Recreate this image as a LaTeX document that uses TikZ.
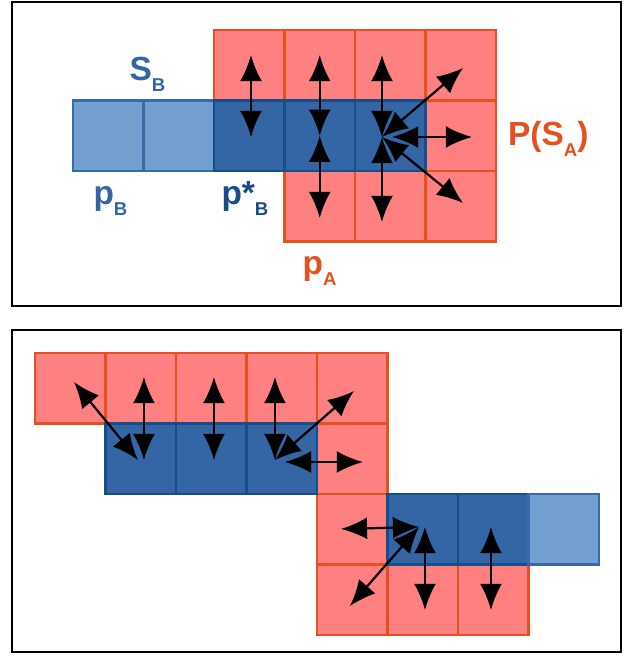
\documentclass[tikz,border=0pt]{standalone}
\usepackage{fontspec}
\setmainfont{Liberation Sans}
\usepackage{xcolor}
\usepackage{tikz}
\usetikzlibrary{arrows.meta,positioning,calc}
\definecolor{cellred}{RGB}{255,128,128}
\definecolor{edgered}{RGB}{228,80,30}
\definecolor{celldark}{RGB}{52,101,164}
\definecolor{edgedark}{RGB}{22,78,140}
\definecolor{celllight}{RGB}{114,159,207}
\definecolor{edgelight}{RGB}{58,104,168}
\newcommand{\lsub}[1]{\raisebox{-0.35em}{\fontsize{7.5}{9}\selectfont #1}}

\begin{document}
\begin{tikzpicture}[
    >={Latex[length=3.7mm,width=3.1mm]},
    cell/.style={draw, minimum size=1cm, inner sep=0pt, line width=0.9pt},
    redcell/.style={cell, fill=cellred, draw=edgered},
    darkcell/.style={cell, fill=celldark, draw=edgedark},
    lightcell/.style={cell, fill=celllight, draw=edgelight},
    panel/.style={draw=black, line width=1pt},
    dbl/.style={<->, line width=0.9pt},
    lbl/.style={font=\fontsize{13.5}{15}\selectfont\bfseries, inner sep=0pt, anchor=base west},
]
    \useasboundingbox (0,0) rectangle (8.851,-9.319);
    % Panels
    \node[panel, minimum width=8.639cm, minimum height=4.312cm, inner sep=0pt] (top) at (4.4895,-2.184) {};
    \node[panel, minimum width=8.639cm, minimum height=4.567cm, inner sep=0pt] (bot) at (4.4895,-6.9645) {};

    % Top panel
    \begin{scope}[shift={(1.035,-0.4255)}]
    \foreach \c/\r in {2/0,3/0,4/0,5/0,5/1,3/2,4/2,5/2}
        \node[redcell] (tr\c\r) at (\c+0.5,-\r-0.5) {};
    \foreach \c in {0,1}
        \node[lightcell] (tb\c) at (\c+0.5,-1.5) {};
    \foreach \c in {2,3,4}
        \node[darkcell] (tb\c) at (\c+0.5,-1.5) {};
    % moves
    \coordinate (tu1) at (2.525,-0.355);
    \coordinate (th1) at (2.525,-1.518);
    \coordinate (tu2) at (3.5,-0.355);
    \coordinate (th2) at (3.5,-1.5);
    \coordinate (td2) at (3.5,-2.667);
    \coordinate (th3) at (4.383,-1.518);
    \coordinate (tu3) at (4.383,-0.355);
    \coordinate (td3) at (4.383,-2.723);
    \coordinate (tur3) at (5.532,-0.539);
    \coordinate (ts3) at (4.525,-1.518);
    \coordinate (tr3) at (5.66,-1.518);
    \coordinate (tdr3) at (5.532,-2.454);
    \draw[dbl] (tu1) -- (th1);
    \draw[dbl] (tu2) -- (th2);
    \draw[dbl] (th2) -- (td2);
    \foreach \e in {tu3,td3,tur3,tdr3}
        \draw[dbl] (th3) -- (\e);
    \draw[dbl] (ts3) -- (tr3);
    \end{scope}
    % Top labels
    \node[lbl, text=celldark] (sb) at (1.830,-1.135) {S\lsub{B}};
    \node[lbl, text=celldark] (pb) at (1.320,-2.894) {p\lsub{B}};
    \node[lbl, text=edgedark] (psb) at (3.135,-2.894) {p*\lsub{B}};
    \node[lbl, text=edgered] (psa) at (7.200,-2.057) {P(S\lsub{A})};
    \node[lbl, text=edgered] (pa) at (4.285,-3.887) {p\lsub{A}};

    % Bottom panel
    \begin{scope}[shift={(0.496,-5.007)}]
    \foreach \c/\r in {0/0,1/0,2/0,3/0,4/0,4/1,4/2,4/3,5/3,6/3}
        \node[redcell] (br\c\r) at (\c+0.5,-\r-0.5) {};
    \foreach \c/\r in {1/1,2/1,3/1,5/2,6/2}
        \node[darkcell] (bb\c\r) at (\c+0.5,-\r-0.5) {};
    \node[lightcell] (bb72) at (7.5,-2.5) {};
    % moves
    \coordinate (ba1) at (0.553,-0.411);
    \coordinate (bg1) at (1.461,-1.518);
    \coordinate (bu1) at (1.546,-0.340);
    \coordinate (bh1) at (1.546,-1.518);
    \coordinate (bu2) at (2.539,-0.340);
    \coordinate (bh2) at (2.539,-1.518);
    \coordinate (bu3) at (3.404,-0.340);
    \coordinate (bh3) at (3.404,-1.518);
    \coordinate (bur3) at (4.525,-0.539);
    \coordinate (bs3) at (3.546,-1.546);
    \coordinate (br3) at (4.652,-1.546);
    \coordinate (bh4) at (5.447,-2.468);
    \coordinate (bl4) at (4.340,-2.496);
    \coordinate (bdl4) at (4.468,-3.589);
    \coordinate (bu5) at (5.532,-2.468);
    \coordinate (bd5) at (5.532,-3.645);
    \coordinate (bu6) at (6.468,-2.468);
    \coordinate (bd6) at (6.468,-3.645);
    \draw[dbl] (ba1) -- (bg1);
    \draw[dbl] (bu1) -- (bh1);
    \draw[dbl] (bu2) -- (bh2);
    \draw[dbl] (bu3) -- (bh3);
    \draw[dbl] (bh3) -- (bur3);
    \draw[dbl] (bs3) -- (br3);
    \draw[dbl] (bl4) -- (bh4);
    \draw[dbl] (bh4) -- (bdl4);
    \draw[dbl] (bu5) -- (bd5);
    \draw[dbl] (bu6) -- (bd6);
    \end{scope}
\end{tikzpicture}
\end{document}
